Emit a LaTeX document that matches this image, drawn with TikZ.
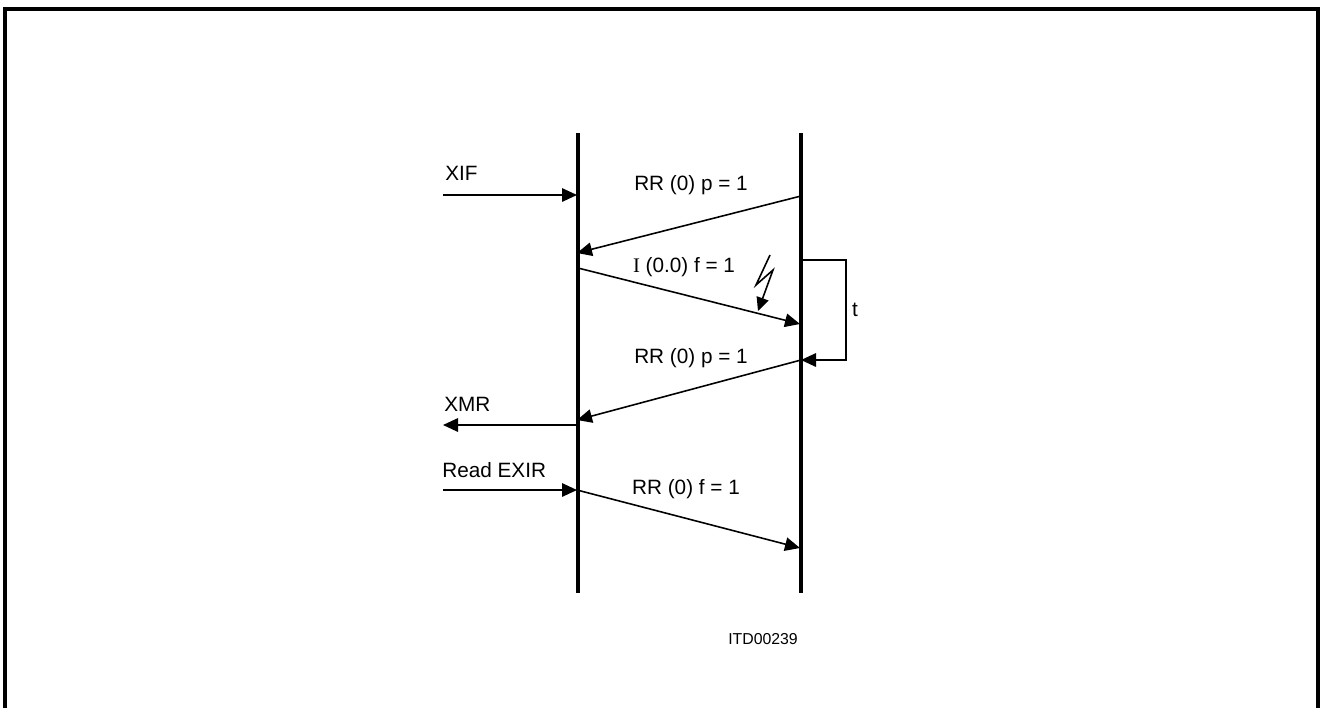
\documentclass[tikz,border=0pt]{standalone}
\usepackage{fontspec}
\setmainfont{Liberation Sans}
\newfontfamily\serifI{Liberation Serif}
\usetikzlibrary{arrows.meta}

\tikzset{
  lifeline/.style={line width=2pt},
  msg/.style={line width=0.9pt,-{Triangle[length=0.3cm,width=0.27cm]}},
  lbl/.style={font=\fontsize{11.8}{13}\selectfont,inner sep=0pt},
}

\begin{document}
\begin{tikzpicture}[x=0.02cm,y=-0.02cm]
\useasboundingbox (0,0) rectangle (1322,707);
%% open frame round the figure
\draw[line width=1.8pt] (5,720) -- (5,9) -- (1318,9) -- (1318,720);
%% two lifelines
\draw[lifeline] (578,133) coordinate (ltop) -- (578,593) coordinate (lbot);
\draw[lifeline] (801,133) coordinate (rtop) -- (801,593) coordinate (rbot);
%% points on the lifelines
\coordinate (l1) at (577,195);
\coordinate (l2) at (577,253);
\coordinate (l3) at (578,268);
\coordinate (l4) at (577,420);
\coordinate (l5) at (578,425);
\coordinate (l6) at (577,490);
\coordinate (r1) at (801,196);
\coordinate (r2) at (800,324);
\coordinate (r3) at (801,360);
\coordinate (r4) at (800,548);
\coordinate (xif) at (443,195);
\coordinate (xmr) at (443,425);
\coordinate (exir) at (443,490);
%% messages
\draw[msg] (xif) -- (l1);
\node[lbl,anchor=west] (tXIF) at (445,173) {XIF};
\draw[msg] (r1) -- (l2);
\node[lbl] (tRR1) at (691,185) {RR (0) p = 1};
\draw[msg] (l3) -- (r2);
\node[lbl] (tI) at (684,267) {{\serifI I} (0.0) f = 1};
%% disturbance
\draw[line width=0.9pt,-{Triangle[length=0.27cm,width=0.25cm]}]
  (770,255) -- (756,285) -- (773,270) -- (758,311);
%% timer
\draw[msg] (r2 |- 0,260) -- (846,260) -- (846,360) -- (r3);
\node[lbl] (tt) at (855,310) {t};
\draw[msg] (r3) -- (l4);
\node[lbl] (tRR2) at (691,358) {RR (0) p = 1};
\draw[msg] (l5) -- (xmr);
\node[lbl,anchor=west] (tXMR) at (444,404) {XMR};
\draw[msg] (exir) -- (l6);
\node[lbl,anchor=west] (tEXIR) at (442,470) {Read EXIR};
\draw[msg] (l6) -- (r4);
\node[lbl] (tRR3) at (686,489) {RR (0) f = 1};
%% figure number
\node[font=\fontsize{9}{10}\selectfont,inner sep=0pt] (itd) at (763,639) {ITD00239};
\end{tikzpicture}
\end{document}
